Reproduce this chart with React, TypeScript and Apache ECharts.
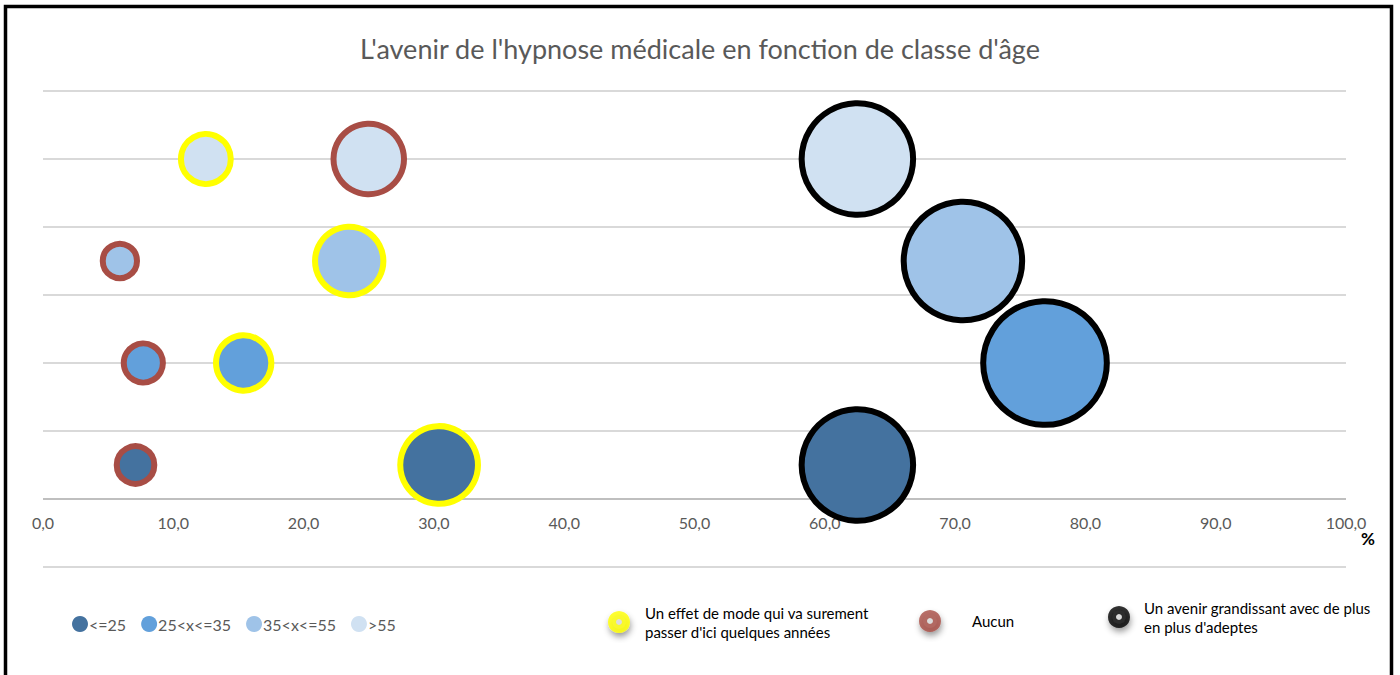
import React, { useEffect, useRef } from 'react';
import * as echarts from 'echarts';

const ageClasses = ['<=25', '25<x<=35', '35<x<=55', '>55'];
const ageRowPositions = [0.5, 2, 3.5, 5];
const ageColors = ['#44729F', '#62A0DB', '#9FC3E8', '#D0E1F2'];

const answers = [
  "Un effet de mode qui va surement passer d'ici quelques années",
  'Aucun',
  "Un avenir grandissant avec de plus en plus d'adeptes",
];
const answerLabels = [
  "Un effet de mode qui va surement\npasser d'ici quelques années",
  'Aucun',
  "Un avenir grandissant avec de plus\nen plus d'adeptes",
];
const answerColors = ['#FFFF00', '#A84D45', '#000000'];

// percentages per age class (same order as ageClasses)
const effetModeValues = [30.4, 15.4, 23.5, 12.5];
const aucunValues = [7.1, 7.7, 5.9, 25.0];
const avenirValues = [62.5, 76.9, 70.6, 62.5];
const answerValues = [effetModeValues, aucunValues, avenirValues];

const FONT = 'Lato, "Open Sans", sans-serif';
const GREY = '#595959';

export default function App() {
  const ref = useRef<HTMLDivElement>(null);
  useEffect(() => {
    if (!ref.current) return;
    const chart = echarts.init(ref.current, undefined, { renderer: 'svg' });

    const ageSeries = ageClasses.map((name, i) => ({
      name,
      type: 'scatter',
      symbol: 'circle',
      symbolSize: (val: number[]) => Math.sqrt(val[0]) * 14.1,
      itemStyle: { color: ageColors[i], opacity: 1 },
      data: answerValues.map((vals, j) => ({
        value: [vals[i], ageRowPositions[i]],
        itemStyle: { borderColor: answerColors[j], borderWidth: 6 },
      })),
      z: 2 + i,
    }));

    const answerSeries = answers.map((name, j) => ({
      name,
      type: 'scatter',
      data: [],
      itemStyle: { color: '#E0E0E0', borderColor: answerColors[j], borderWidth: 8 },
    }));

    const ringLegend = (j: number, left: number, top: number, w: number) => ({
      show: true,
      left,
      top,
      padding: 0,
      icon: 'circle',
      itemWidth: w,
      itemHeight: 14,
      selectedMode: false,
      formatter: () => answerLabels[j],
      textStyle: { fontFamily: FONT, fontSize: 15, color: '#000', lineHeight: 19 },
      data: [
        {
          name: answers[j],
          itemStyle: {
            color: '#E0E0E0',
            borderColor: answerColors[j],
            borderWidth: 8,
            shadowColor: 'rgba(0,0,0,0.45)',
            shadowBlur: 6,
            shadowOffsetX: 1,
            shadowOffsetY: 4,
          },
        },
      ],
    });

    chart.setOption({
      animation: false,
      backgroundColor: '#fff',
      title: {
        text: "L'avenir de l'hypnose médicale en fonction de classe d'âge",
        left: 'center',
        top: 30,
        textStyle: { fontFamily: FONT, fontSize: 27, fontWeight: 'normal', color: GREY },
      },
      grid: { left: 43, right: 54, top: 91, bottom: 108 },
      xAxis: {
        type: 'value',
        min: 0,
        max: 100,
        interval: 10,
        axisLine: { onZero: false, show: false },
        axisTick: { show: false },
        splitLine: { show: false },
        axisLabel: {
          margin: -53,
          fontFamily: FONT,
          fontSize: 16,
          color: GREY,
          formatter: (v: number) => v.toFixed(1).replace('.', ','),
        },
      },
      yAxis: {
        type: 'value',
        min: -1,
        max: 6,
        interval: 1,
        axisLine: { show: false },
        axisTick: { show: false },
        axisLabel: { show: false },
        splitLine: {
          lineStyle: {
            color: ['#D9D9D9', '#BFBFBF', '#D9D9D9', '#D9D9D9', '#D9D9D9', '#D9D9D9', '#D9D9D9', '#D9D9D9'],
            width: 2,
          },
        },
      },
      legend: [
        {
          left: 72,
          top: 616,
          padding: 0,
          icon: 'circle',
          itemWidth: 16,
          itemHeight: 16,
          itemGap: 15,
          selectedMode: false,
          textStyle: { fontFamily: FONT, fontSize: 16, color: GREY, padding: [0, 0, 0, -4] },
          itemStyle: { borderWidth: 0 },
          data: ageClasses,
        },
        ringLegend(0, 608, 603, 42),
        ringLegend(1, 919, 610, 74),
        ringLegend(2, 1108, 598, 40),
      ],
      graphic: [
        {
          type: 'rect',
          shape: { x: 5.5, y: 6.5, width: 1386, height: 720 },
          style: { fill: 'none', stroke: '#000', lineWidth: 3.5 },
          silent: true,
          z: 100,
        },
        {
          type: 'text',
          x: 1361,
          y: 530,
          style: { text: '%', fontFamily: FONT, fontSize: 17, fontWeight: 'bold', fill: '#000' },
        },
      ],
      series: [...ageSeries, ...answerSeries],
    });
    return () => chart.dispose();
  }, []);
  return (
    <div
      ref={ref}
      style={{ position: 'fixed', left: 0, top: 0, width: 1400, height: 675 }}
    />
  );
}
